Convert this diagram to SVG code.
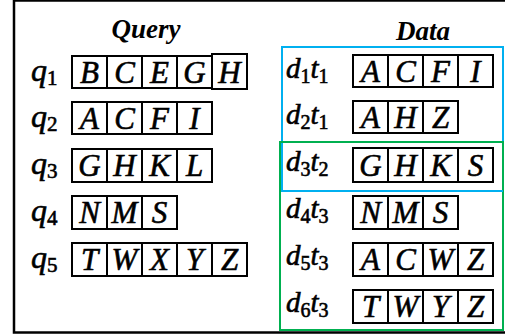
<svg xmlns="http://www.w3.org/2000/svg" width="505" height="335" viewBox="0 0 505 335">
<style>
.cell{fill:#fff;stroke:#000;stroke-width:2}
.t{font-family:"Liberation Serif","DejaVu Serif",serif;font-style:italic;fill:#000;stroke:#000;stroke-width:0.6}
.c{font-size:31px;text-anchor:middle}
.lab{font-size:32px}
.sub{font-size:21px;font-style:normal}
.dl{font-size:29px}
.dsub{font-size:20px;font-style:normal}
.title{font-size:27px;font-weight:bold;text-anchor:middle;stroke-width:0}
</style>
<rect width="505" height="335" fill="#fff"/>
<g id="frame"><rect x="14" y="0.5" width="494" height="332" fill="none" stroke="#000" stroke-width="2.5"/></g>
<g id="groups">
<rect x="282" y="47" width="221" height="144" fill="none" stroke="#00b0f0" stroke-width="2"/>
<rect x="280" y="142" width="223" height="188" fill="none" stroke="#00b050" stroke-width="2"/>
<line x1="282" y1="191" x2="503" y2="191" stroke="#00b0f0" stroke-width="2"/>
</g>
<text class="t title" x="146" y="38">Query</text>
<text class="t title" x="423" y="40">Data</text>
<g id="q1">
<text class="t lab" x="31" y="81">q<tspan class="sub" dy="4">1</tspan></text>
<rect class="cell" x="72" y="56" width="35" height="32"/><rect class="cell" x="107" y="56" width="35" height="32"/><rect class="cell" x="142" y="56" width="35" height="32"/><rect class="cell" x="177" y="56" width="35" height="32"/>
<rect class="cell" x="212" y="54" width="35" height="35"/>
<text class="t c" x="89.5" y="83">B</text><text class="t c" x="124.5" y="83">C</text><text class="t c" x="159.5" y="83">E</text><text class="t c" x="194.5" y="83">G</text><text class="t c" x="229.5" y="83">H</text>
</g>
<g id="q2">
<text class="t lab" x="31" y="127">q<tspan class="sub" dy="4">2</tspan></text>
<rect class="cell" x="72" y="102" width="35" height="32"/><rect class="cell" x="107" y="102" width="35" height="32"/><rect class="cell" x="142" y="102" width="35" height="32"/><rect class="cell" x="177" y="102" width="35" height="32"/>
<text class="t c" x="89.5" y="129">A</text><text class="t c" x="124.5" y="129">C</text><text class="t c" x="159.5" y="129">F</text><text class="t c" x="194.5" y="129">I</text>
</g>
<g id="q3">
<text class="t lab" x="31" y="174">q<tspan class="sub" dy="4">3</tspan></text>
<rect class="cell" x="72" y="149" width="35" height="33"/><rect class="cell" x="107" y="149" width="35" height="33"/><rect class="cell" x="142" y="149" width="35" height="33"/><rect class="cell" x="177" y="149" width="35" height="33"/>
<text class="t c" x="89.5" y="176">G</text><text class="t c" x="124.5" y="176">H</text><text class="t c" x="159.5" y="176">K</text><text class="t c" x="194.5" y="176">L</text>
</g>
<g id="q4">
<text class="t lab" x="31" y="221">q<tspan class="sub" dy="4">4</tspan></text>
<rect class="cell" x="72" y="196" width="35" height="33"/><rect class="cell" x="107" y="196" width="35" height="33"/><rect class="cell" x="142" y="196" width="35" height="33"/>
<text class="t c" x="89.5" y="223">N</text><text class="t c" x="124.5" y="223">M</text><text class="t c" x="159.5" y="223">S</text>
</g>
<g id="q5">
<text class="t lab" x="31" y="268">q<tspan class="sub" dy="4">5</tspan></text>
<rect class="cell" x="72" y="243" width="35" height="33"/><rect class="cell" x="107" y="243" width="35" height="33"/><rect class="cell" x="142" y="243" width="35" height="33"/><rect class="cell" x="177" y="243" width="35" height="33"/><rect class="cell" x="212" y="243" width="35" height="33"/>
<text class="t c" x="89.5" y="270">T</text><text class="t c" x="124.5" y="270">W</text><text class="t c" x="159.5" y="270">X</text><text class="t c" x="194.5" y="270">Y</text><text class="t c" x="229.5" y="270">Z</text>
</g>
<g id="d1">
<text class="t dl" x="286" y="78">d<tspan class="dsub" dy="5">1</tspan><tspan dy="-5">t</tspan><tspan class="dsub" dy="5">1</tspan></text>
<rect class="cell" x="353" y="55" width="35" height="32"/><rect class="cell" x="388" y="55" width="35" height="32"/><rect class="cell" x="423" y="55" width="35" height="32"/><rect class="cell" x="458" y="55" width="35" height="32"/>
<text class="t c" x="370.5" y="82">A</text><text class="t c" x="405.5" y="82">C</text><text class="t c" x="440.5" y="82">F</text><text class="t c" x="475.5" y="82">I</text>
</g>
<g id="d2">
<text class="t dl" x="286" y="124">d<tspan class="dsub" dy="5">2</tspan><tspan dy="-5">t</tspan><tspan class="dsub" dy="5">1</tspan></text>
<rect class="cell" x="353" y="101" width="35" height="32"/><rect class="cell" x="388" y="101" width="35" height="32"/><rect class="cell" x="423" y="101" width="35" height="32"/>
<text class="t c" x="370.5" y="128">A</text><text class="t c" x="405.5" y="128">H</text><text class="t c" x="440.5" y="128">Z</text>
</g>
<g id="d3">
<text class="t dl" x="286" y="171">d<tspan class="dsub" dy="5">3</tspan><tspan dy="-5">t</tspan><tspan class="dsub" dy="5">2</tspan></text>
<rect class="cell" x="353" y="148" width="35" height="34"/><rect class="cell" x="388" y="148" width="35" height="34"/><rect class="cell" x="423" y="148" width="35" height="34"/><rect class="cell" x="458" y="148" width="35" height="34"/>
<text class="t c" x="370.5" y="176">G</text><text class="t c" x="405.5" y="176">H</text><text class="t c" x="440.5" y="176">K</text><text class="t c" x="475.5" y="176">S</text>
</g>
<g id="d4">
<text class="t dl" x="286" y="218">d<tspan class="dsub" dy="5">4</tspan><tspan dy="-5">t</tspan><tspan class="dsub" dy="5">3</tspan></text>
<rect class="cell" x="353" y="196" width="35" height="33"/><rect class="cell" x="388" y="196" width="35" height="33"/><rect class="cell" x="423" y="196" width="35" height="33"/>
<text class="t c" x="370.5" y="223">N</text><text class="t c" x="405.5" y="223">M</text><text class="t c" x="440.5" y="223">S</text>
</g>
<g id="d5">
<text class="t dl" x="286" y="265">d<tspan class="dsub" dy="5">5</tspan><tspan dy="-5">t</tspan><tspan class="dsub" dy="5">3</tspan></text>
<rect class="cell" x="353" y="243" width="35" height="33"/><rect class="cell" x="388" y="243" width="35" height="33"/><rect class="cell" x="423" y="243" width="35" height="33"/><rect class="cell" x="458" y="243" width="35" height="33"/>
<text class="t c" x="370.5" y="270">A</text><text class="t c" x="405.5" y="270">C</text><text class="t c" x="440.5" y="270">W</text><text class="t c" x="475.5" y="270">Z</text>
</g>
<g id="d6">
<text class="t dl" x="286" y="312">d<tspan class="dsub" dy="5">6</tspan><tspan dy="-5">t</tspan><tspan class="dsub" dy="5">3</tspan></text>
<rect class="cell" x="353" y="290" width="35" height="33"/><rect class="cell" x="388" y="290" width="35" height="33"/><rect class="cell" x="423" y="290" width="35" height="33"/><rect class="cell" x="458" y="290" width="35" height="33"/>
<text class="t c" x="370.5" y="317">T</text><text class="t c" x="405.5" y="317">W</text><text class="t c" x="440.5" y="317">Y</text><text class="t c" x="475.5" y="317">Z</text>
</g>
</svg>
